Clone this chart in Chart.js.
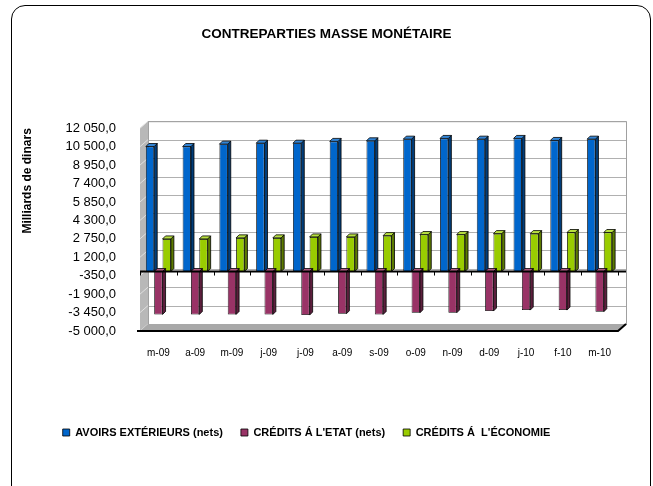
<!DOCTYPE html>
<html>
<head>
<meta charset="utf-8">
<script src="https://cdn.jsdelivr.net/npm/chart.js@4"></script>
<style>
  html, body { margin: 0; padding: 0; background: #fff; }
  #wrap { position: relative; width: 653px; height: 486px; overflow: hidden; }
  #frame {
    position: absolute; left: 11px; top: 5px; width: 640px; height: 520px;
    border: 1.5px solid #000; border-radius: 14px; box-sizing: border-box;
  }
  canvas { position: absolute; left: 0; top: 0; }
</style>
</head>
<body>
<div id="wrap">
  <div id="frame"></div>
  <canvas id="chart" width="653" height="486"></canvas>
</div>
<script>
/* ===== DATA ===== */
const months = ["m-09", "a-09", "m-09", "j-09", "j-09", "a-09", "s-09", "o-09", "n-09", "d-09", "j-10", "f-10", "m-10"];

const avoirsExterieurs = [10510, 10510, 10710, 10790, 10790, 10940, 10990, 11130, 11190, 11130, 11190, 11020, 11130];
const creditsEtat = [-3610, -3610, -3610, -3610, -3660, -3550, -3610, -3470, -3470, -3320, -3240, -3240, -3380];
const creditsEconomie = [2740, 2740, 2830, 2830, 2910, 2910, 3020, 3110, 3110, 3190, 3190, 3280, 3280];

const yTicks = [-5000, -3450, -1900, -350, 1200, 2750, 4300, 5850, 7400, 8950, 10500, 12050];

const seriesNames = ["AVOIRS EXTÉRIEURS (nets)", "CRÉDITS Á L'ETAT (nets)", "CRÉDITS Á  L'ÉCONOMIE"];
const frontColors = ["#0066cc", "#993366", "#99cc00"];
const sideColors = ["#003d7a", "#5c1f3d", "#5c7a00"];
const topColors = ["#3385d6", "#b35c85", "#b8e040"];

/* ===== HELPERS ===== */
function frNumber(v) {
  const neg = v < 0;
  const s = Math.abs(v).toFixed(0).replace(/\B(?=(\d{3})+(?!\d))/g, " ");
  return (neg ? "-" : "") + s + ",0";
}

const WALL_DX = 8, WALL_DY = -7;   // depth of the back wall
const BAR_D = 3;                   // depth of each bar
const LEGEND_SHIFT = -20;          // legend sits left of the title in the original

/* ===== 3D WALLS + GRID ===== */
const wallPlugin = {
  id: "walls",
  afterLayout(chart) {
    chart.legend.left += LEGEND_SHIFT;
    chart.legend.right += LEGEND_SHIFT;
  },
  beforeDatasetsDraw(chart) {
    const { ctx, chartArea: a, scales: { y } } = chart;
    ctx.save();
    // back wall
    ctx.fillStyle = "#ffffff";
    ctx.fillRect(a.left + WALL_DX, a.top + WALL_DY, a.right - a.left, a.bottom - a.top);
    // grid lines on the back wall
    ctx.strokeStyle = "#b0b0b0";
    ctx.lineWidth = 1;
    yTicks.forEach(v => {
      const py = Math.round(y.getPixelForValue(v) + WALL_DY) + 0.5;
      ctx.beginPath();
      ctx.moveTo(a.left + WALL_DX, py);
      ctx.lineTo(a.right + WALL_DX, py);
      ctx.stroke();
    });
    ctx.strokeStyle = "#a0a0a0";
    ctx.strokeRect(a.left + WALL_DX + 0.5, a.top + WALL_DY + 0.5, a.right - a.left, a.bottom - a.top);
    // left wall
    ctx.fillStyle = "#b8b8b8";
    ctx.beginPath();
    ctx.moveTo(a.left, a.top);
    ctx.lineTo(a.left + WALL_DX, a.top + WALL_DY);
    ctx.lineTo(a.left + WALL_DX, a.bottom + WALL_DY);
    ctx.lineTo(a.left, a.bottom);
    ctx.closePath();
    ctx.fill();
    ctx.strokeStyle = "#e0e0e0";
    yTicks.forEach(v => {
      const py = y.getPixelForValue(v);
      ctx.beginPath();
      ctx.moveTo(a.left, py);
      ctx.lineTo(a.left + WALL_DX, py + WALL_DY);
      ctx.stroke();
    });
    // floor
    ctx.fillStyle = "#a8a8a8";
    ctx.beginPath();
    ctx.moveTo(a.left, a.bottom);
    ctx.lineTo(a.left + WALL_DX, a.bottom + WALL_DY);
    ctx.lineTo(a.right + WALL_DX, a.bottom + WALL_DY);
    ctx.lineTo(a.right, a.bottom);
    ctx.closePath();
    ctx.fill();
    ctx.strokeStyle = "#000";
    ctx.lineWidth = 2;
    ctx.beginPath();
    ctx.moveTo(a.left - 3, a.bottom);
    ctx.lineTo(a.right, a.bottom);
    ctx.lineTo(a.right + WALL_DX, a.bottom + WALL_DY);
    ctx.stroke();
    ctx.restore();
  },
  afterDatasetsDraw(chart) {
    const { ctx, chartArea: a, scales: { y } } = chart;
    ctx.save();
    // side and top faces of every bar
    chart.data.datasets.forEach((ds, i) => {
      const meta = chart.getDatasetMeta(i);
      meta.data.forEach(bar => {
        const l = bar.x - bar.width / 2, r = bar.x + bar.width / 2;
        const t = Math.min(bar.y, bar.base), b = Math.max(bar.y, bar.base);
        ctx.lineWidth = 0.8;
        ctx.strokeStyle = "#000";
        ctx.fillStyle = sideColors[i];
        ctx.beginPath();
        ctx.moveTo(r, t);
        ctx.lineTo(r + BAR_D, t - BAR_D);
        ctx.lineTo(r + BAR_D, b - BAR_D);
        ctx.lineTo(r, b);
        ctx.closePath();
        ctx.fill();
        ctx.stroke();
        ctx.fillStyle = topColors[i];
        ctx.beginPath();
        ctx.moveTo(l, t);
        ctx.lineTo(l + BAR_D, t - BAR_D);
        ctx.lineTo(r + BAR_D, t - BAR_D);
        ctx.lineTo(r, t);
        ctx.closePath();
        ctx.fill();
        ctx.stroke();
      });
    });
    // zero axis line with category ticks
    const y0 = y.getPixelForValue(0);
    ctx.strokeStyle = "#000";
    ctx.lineWidth = 2;
    ctx.beginPath();
    ctx.moveTo(a.left, y0);
    ctx.lineTo(a.right + WALL_DX, y0);
    ctx.stroke();
    ctx.lineWidth = 1;
    for (let k = 0; k <= months.length; k++) {
      const px = Math.round(a.left + k * (a.right - a.left) / months.length) + 0.5;
      ctx.beginPath();
      ctx.moveTo(px, y0);
      ctx.lineTo(px, y0 + 4);
      ctx.stroke();
    }
    ctx.restore();
  }
};

/* ===== CHART ===== */
new Chart(document.getElementById("chart"), {
  type: "bar",
  data: {
    labels: months,
    datasets: [avoirsExterieurs, creditsEtat, creditsEconomie].map((d, i) => ({
      label: seriesNames[i],
      data: d,
      backgroundColor: frontColors[i],
      borderColor: "#000",
      borderWidth: 0.8,
      barPercentage: 1,
      categoryPercentage: 0.68
    }))
  },
  plugins: [wallPlugin],
  options: {
    responsive: false,
    animation: false,
    layout: { padding: { left: 0, right: 0, top: 0, bottom: 38 } },
    plugins: {
      title: {
        display: true,
        text: "CONTREPARTIES MASSE MONÉTAIRE",
        color: "#000",
        font: { family: "Liberation Sans, Arial", size: 13.5, weight: "bold" },
        padding: { top: 26, bottom: 86 }
      },
      legend: {
        position: "bottom",
        labels: {
          color: "#000",
          font: { family: "Liberation Sans, Arial", size: 11, weight: "bold" },
          boxWidth: 7,
          boxHeight: 7,
          padding: 18
        }
      },
      tooltip: { enabled: false }
    },
    scales: {
      x: {
        grid: { display: false, drawTicks: false },
        border: { display: false },
        ticks: {
          color: "#000",
          font: { family: "Liberation Sans, Arial", size: 10 },
          padding: 16,
          maxRotation: 0,
          autoSkip: false
        },
        afterFit(scale) { scale.height = 78; }
      },
      y: {
        min: -5000,
        max: 12050,
        afterBuildTicks(axis) { axis.ticks = yTicks.map(v => ({ value: v })); },
        grid: { display: false, drawTicks: false },
        border: { display: false },
        ticks: {
          color: "#000",
          font: { family: "Liberation Sans, Arial", size: 13 },
          padding: 24,
          autoSkip: false,
          callback: v => frNumber(v)
        },
        title: {
          display: true,
          align: "end",
          text: "Milliards de dinars",
          color: "#000",
          font: { family: "Liberation Sans, Arial", size: 12, weight: "bold" },
          padding: { top: 20, bottom: 0 }
        },
        afterFit(scale) { scale.width = 140; }
      },
      yRight: {
        position: "right",
        grid: { display: false, drawTicks: false },
        border: { display: false },
        ticks: { display: false },
        afterFit(scale) { scale.width = 35; }
      }
    }
  }
});
</script>
</body>
</html>
